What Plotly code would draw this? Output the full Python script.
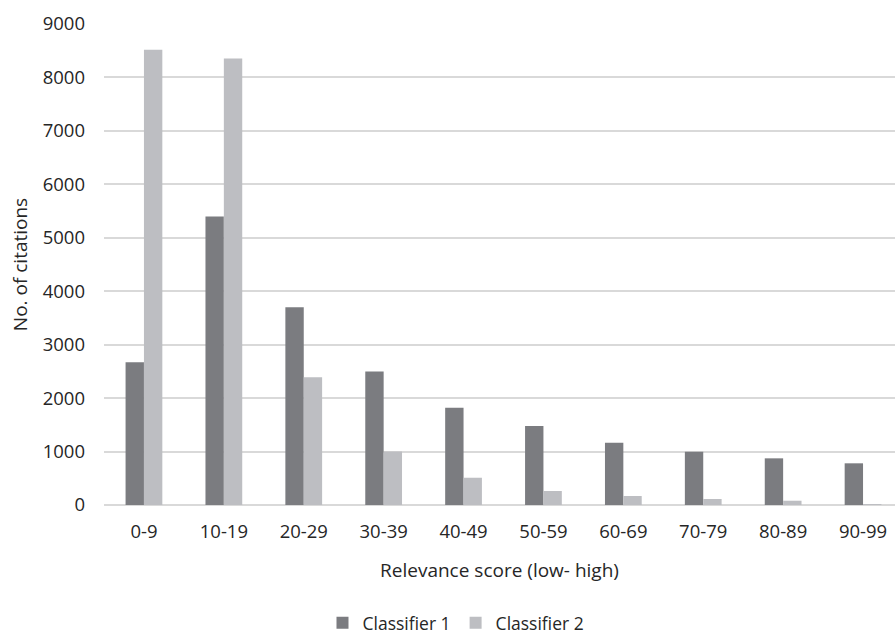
import plotly.graph_objects as go

categories = ["0-9", "10-19", "20-29", "30-39", "40-49", "50-59", "60-69", "70-79", "80-89", "90-99"]
classifier1 = [2670, 5400, 3700, 2500, 1820, 1480, 1165, 995, 873, 780]
classifier2 = [8520, 8355, 2390, 1000, 510, 262, 168, 112, 80, 15]

FONT = "Open Sans"
TXT = "#262626"

fig = go.Figure()
fig.add_trace(go.Bar(x=categories, y=classifier1, name="Classifier 1",
                     marker=dict(color="#7b7c80", line=dict(width=0))))
fig.add_trace(go.Bar(x=categories, y=classifier2, name="Classifier 2",
                     marker=dict(color="#bdbec2", line=dict(width=0))))

fig.update_layout(
    width=895, height=638,
    margin=dict(l=104, r=0, t=24, b=133, autoexpand=False),
    paper_bgcolor="white", plot_bgcolor="white",
    barmode="group", bargap=0.54, bargroupgap=0,
    font=dict(family=FONT, size=18, color=TXT),
    showlegend=True,
    legend=dict(orientation="h", x=0.445, xanchor="center", y=-0.245, yanchor="middle",
                font=dict(family=FONT, size=17.5, color=TXT), itemwidth=30,
                tracegroupgap=0, traceorder="normal"),
    xaxis=dict(range=[-0.5, 9.4], showgrid=False, showline=False, ticks="",
               automargin=False,
               tickfont=dict(size=18.5, color=TXT), ticklabelstandoff=13,
               title=dict(text="Relevance score (low- high)", standoff=22,
                          font=dict(size=19, color=TXT))),
    yaxis=dict(range=[0, 9000], dtick=1000, showgrid=True, gridcolor="#d9d9d9", gridwidth=1.5,
               zeroline=True, zerolinecolor="#d9d9d9", zerolinewidth=1.5,
               automargin=False,
               showline=False, ticks="", tickfont=dict(size=18.5, color=TXT),
               ticklabelstandoff=18,
               title=dict(text="No. of citations", standoff=10,
                          font=dict(size=19, color=TXT))),
)

fig.write_html("out.html")
